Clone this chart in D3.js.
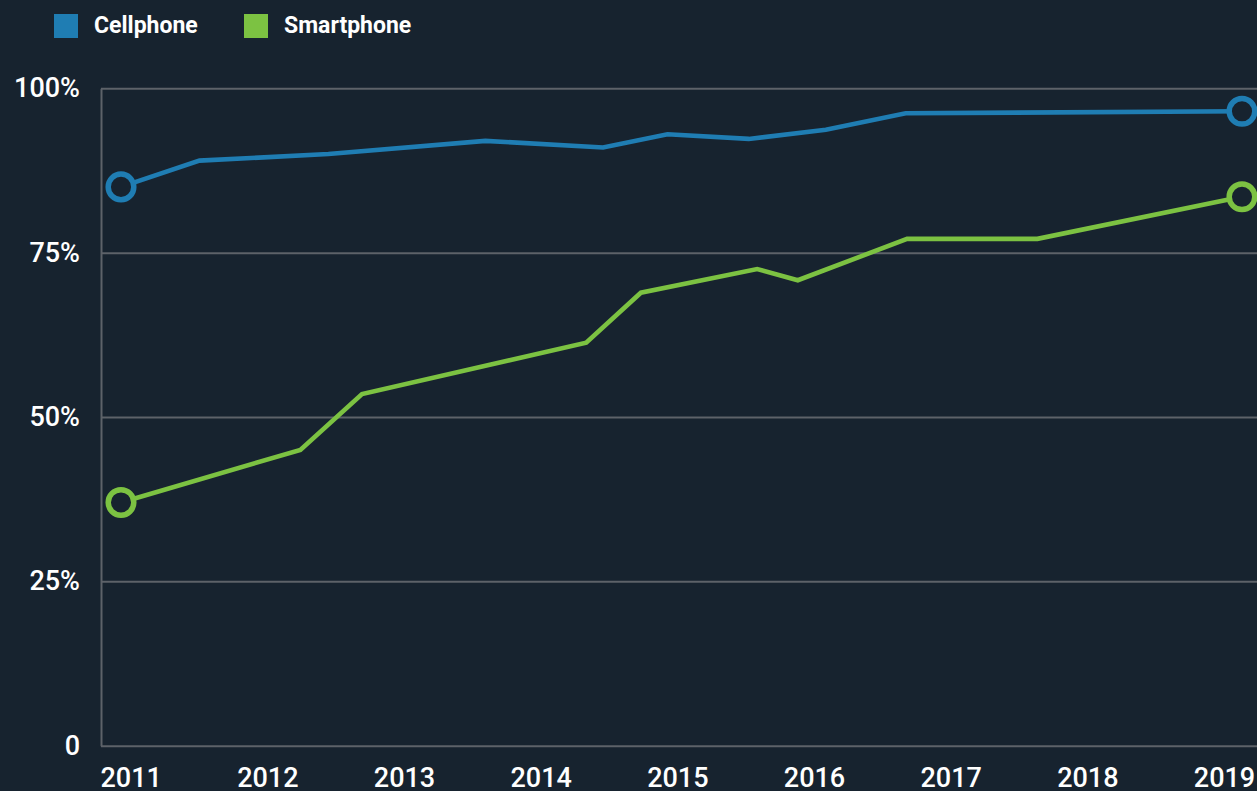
<!DOCTYPE html>
<html>
<head>
<meta charset="utf-8">
<script src="https://cdn.jsdelivr.net/npm/d3@7"></script>
<style>
  html, body { margin: 0; padding: 0; background: #17232f; }
  svg { display: block; }
  text { font-family: Roboto, "Noto Sans", sans-serif; fill: #ffffff; }
</style>
</head>
<body>
<div id="chart"></div>
<script>
// data (x = fractional year)
var cellYears   = [2011, 2011.56, 2012.48, 2013.60, 2014.44, 2014.90, 2015.48, 2016.03, 2016.60, 2019];
var cellValues  = [85, 89, 90, 92, 91, 93, 92.3, 93.7, 96.2, 96.5];
var smartYears  = [2011, 2012.28, 2012.72, 2014.32, 2014.71, 2015.54, 2015.83, 2016.61, 2017.54, 2019];
var smartValues = [37, 45, 53.5, 61.3, 68.9, 72.5, 70.8, 77.1, 77.1, 83.5];
var yearLabels  = [2011, 2012, 2013, 2014, 2015, 2016, 2017, 2018, 2019];
var yTicks      = [0, 25, 50, 75, 100];
var seriesNames = ["Cellphone", "Smartphone"];
var colors      = ["#1f7db3", "#7cc242"];

var W = 1257, H = 791;
var plotLeft = 101, plotTop = 88.3, plotBottom = 745.7;

var svg = d3.select("#chart")
  .append("svg")
  .attr("width", W)
  .attr("height", H);

svg.append("rect").attr("width", W).attr("height", H).attr("fill", "#17232f");

// scales
var x = d3.scaleLinear().domain([2011, 2019]).range([121, 1242]);
var xLab = d3.scalePoint().domain(yearLabels).range([130.7, 1224]);
var y = d3.scaleLinear().domain([0, 100]).range([plotBottom, plotTop]);

// y axis + gridlines
var yAxis = svg.append("g")
  .attr("transform", "translate(" + plotLeft + ",0)")
  .call(d3.axisLeft(y)
    .tickValues(yTicks)
    .tickSize(-(W - plotLeft))
    .tickSizeOuter(0)
    .tickPadding(21)
    .tickFormat(function(d) { return d === 0 ? "0" : d + "%"; }));
yAxis.select(".domain").attr("stroke", "#5d6269").attr("stroke-width", 2);
yAxis.selectAll(".tick line").attr("stroke", "#5d6269").attr("stroke-width", 2);
yAxis.selectAll(".tick text")
  .attr("fill", "#ffffff")
  .style("font-size", "27px")
  .style("font-weight", 500)
  .style("font-family", "Roboto, sans-serif");

// x labels
var xAxis = svg.append("g")
  .attr("transform", "translate(0," + plotBottom + ")")
  .call(d3.axisBottom(xLab).tickSize(0).tickPadding(22.6));
xAxis.select(".domain").remove();
xAxis.selectAll(".tick text")
  .attr("fill", "#ffffff")
  .style("font-size", "27px")
  .style("font-weight", 500)
  .style("font-family", "Roboto, sans-serif");

// lines
var series = [
  { name: seriesNames[0], color: colors[0], pts: cellYears.map(function(t, i) { return { t: t, v: cellValues[i] }; }) },
  { name: seriesNames[1], color: colors[1], pts: smartYears.map(function(t, i) { return { t: t, v: smartValues[i] }; }) }
];

var line = d3.line()
  .x(function(d) { return x(d.t); })
  .y(function(d) { return y(d.v); });

series.forEach(function(s) {
  svg.append("path")
    .datum(s.pts)
    .attr("fill", "none")
    .attr("stroke", s.color)
    .attr("stroke-width", 4.6)
    .attr("d", line);

  var ends = [s.pts[0], s.pts[s.pts.length - 1]];
  svg.selectAll(null)
    .data(ends)
    .enter()
    .append("circle")
    .attr("cx", function(d) { return x(d.t); })
    .attr("cy", function(d) { return y(d.v); })
    .attr("r", 12.8)
    .attr("fill", "#17232f")
    .attr("stroke", s.color)
    .attr("stroke-width", 5.5);
});

// legend
var legend = svg.append("g");
var legX = [54, 244];
series.forEach(function(s, i) {
  legend.append("rect")
    .attr("x", legX[i]).attr("y", 14)
    .attr("width", 24).attr("height", 24)
    .attr("fill", s.color);
  legend.append("text")
    .attr("x", legX[i] + 40).attr("y", 33)
    .style("font-size", "23px")
    .style("font-weight", 700)
    .text(s.name);
});
</script>
</body>
</html>
